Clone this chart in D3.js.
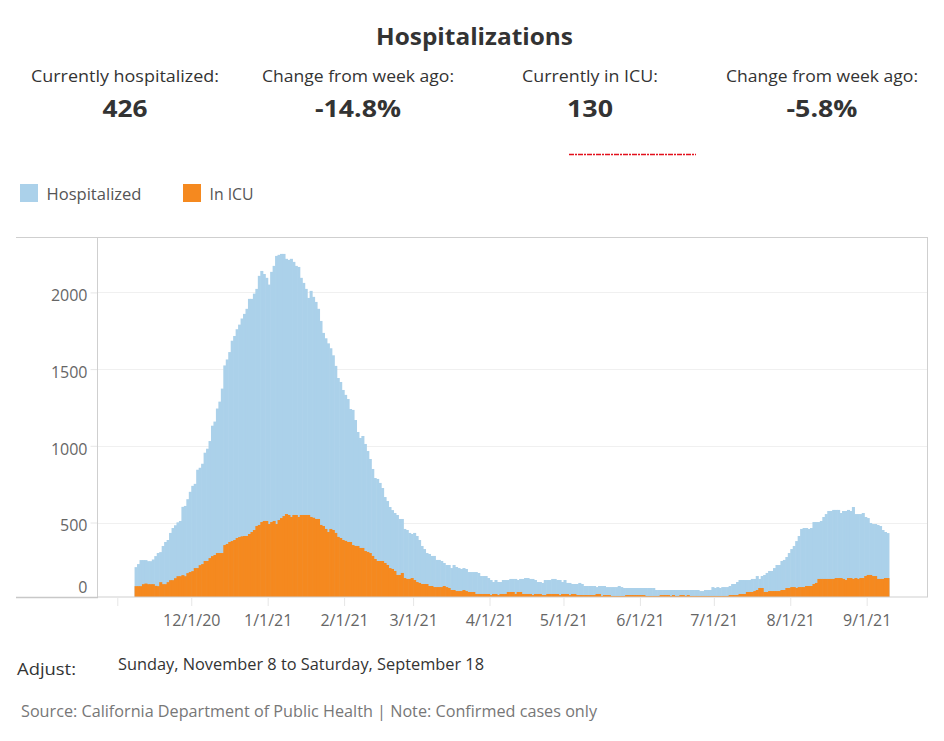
<!DOCTYPE html>
<html>
<head>
<meta charset="utf-8">
<script src="https://cdn.jsdelivr.net/npm/d3@7"></script>
<style>
  html, body { margin: 0; padding: 0; background: #fff; }
  svg { display: block; font-family: "Open Sans", Lato, sans-serif; }
</style>
</head>
<body>
<svg id="chart" width="944" height="741"></svg>
<script>
// ---------- DATA ----------
const firstDay = "2020-11-08";
const lastDay = "2021-09-09";

const hospitalized = [
  209, 229, 255, 255, 255, 248, 248, 259, 281, 301,
  307, 347, 373, 386, 432, 464, 482, 501, 510, 602,
  608, 652, 700, 739, 752, 844, 857, 883, 955, 981,
  1031, 1131, 1158, 1243, 1288, 1373, 1524, 1563, 1611, 1685,
  1716, 1760, 1790, 1830, 1860, 1893, 1958, 1958, 1992, 2023,
  2108, 2140, 2120, 2095, 2051, 2134, 2173, 2238, 2245, 2251,
  2251, 2219, 2212, 2219, 2199, 2173, 2166, 2095, 2062, 2023,
  1964, 2010, 1971, 1938, 1893, 1814, 1736, 1701, 1668, 1636,
  1590, 1521, 1442, 1416, 1364, 1332, 1305, 1240, 1234, 1168,
  1090, 1051, 1064, 1012, 966, 914, 849, 790, 784, 758,
  725, 666, 640, 601, 581, 562, 549, 523, 523, 458,
  451, 432, 425, 432, 412, 386, 347, 327, 301, 295,
  282, 282, 256, 256, 249, 236, 223, 223, 203, 223,
  210, 203, 197, 203, 197, 177, 177, 177, 177, 171,
  151, 151, 151, 138, 125, 112, 125, 112, 112, 125,
  125, 125, 132, 132, 132, 125, 132, 132, 138, 138,
  132, 132, 125, 112, 112, 106, 125, 125, 125, 132,
  132, 125, 125, 112, 125, 106, 106, 99, 99, 99,
  106, 99, 86, 86, 86, 86, 86, 79, 86, 86,
  86, 79, 79, 79, 79, 79, 86, 79, 73, 73,
  73, 73, 73, 73, 73, 73, 73, 73, 73, 73,
  73, 60, 60, 60, 60, 60, 60, 60, 60, 60,
  60, 60, 60, 60, 60, 60, 60, 60, 60, 53,
  53, 60, 60, 60, 79, 73, 79, 73, 79, 79,
  79, 86, 99, 99, 112, 125, 125, 125, 125, 125,
  132, 132, 151, 132, 151, 158, 171, 184, 184, 203,
  223, 223, 249, 256, 275, 301, 327, 347, 379, 412,
  458, 464, 464, 458, 464, 503, 503, 503, 510, 536,
  555, 575, 575, 582, 582, 582, 562, 575, 575, 582,
  575, 601, 555, 555, 555, 562, 536, 529, 497, 490,
  490, 484, 477, 451, 438, 431
];

const inICU = [
  85, 85, 85, 98, 102, 98, 98, 98, 87, 85,
  111, 98, 98, 111, 124, 124, 137, 150, 150, 157,
  150, 170, 177, 183, 203, 203, 222, 229, 249, 249,
  268, 281, 288, 301, 301, 301, 353, 360, 373, 379,
  386, 399, 405, 410, 412, 412, 425, 438, 451, 477,
  484, 503, 510, 510, 490, 503, 510, 490, 516, 529,
  542, 555, 549, 536, 549, 549, 536, 549, 549, 549,
  549, 536, 531, 523, 523, 484, 477, 458, 438, 458,
  451, 432, 406, 399, 386, 380, 373, 373, 353, 347,
  347, 334, 334, 314, 308, 301, 282, 262, 249, 249,
  249, 236, 223, 203, 197, 184, 158, 158, 171, 138,
  132, 132, 138, 125, 112, 106, 99, 99, 99, 86,
  86, 79, 79, 79, 79, 86, 79, 73, 60, 60,
  53, 53, 53, 60, 53, 47, 47, 47, 34, 34,
  34, 34, 34, 34, 27, 34, 34, 27, 34, 34,
  34, 47, 47, 47, 34, 47, 47, 34, 34, 34,
  34, 27, 34, 34, 34, 27, 27, 34, 34, 34,
  34, 34, 27, 34, 34, 34, 27, 34, 34, 27,
  27, 27, 27, 27, 27, 27, 27, 34, 34, 21,
  27, 27, 27, 21, 21, 21, 21, 21, 21, 27,
  27, 27, 27, 27, 27, 27, 27, 21, 21, 21,
  21, 21, 21, 27, 27, 27, 27, 21, 27, 21,
  21, 27, 27, 21, 27, 21, 21, 21, 21, 21,
  21, 21, 21, 21, 21, 21, 21, 21, 21, 21,
  21, 27, 27, 27, 27, 34, 34, 34, 47, 47,
  47, 53, 60, 73, 73, 47, 47, 53, 53, 53,
  53, 53, 60, 60, 73, 73, 79, 79, 73, 79,
  79, 79, 86, 86, 86, 99, 106, 132, 132, 132,
  132, 132, 132, 132, 138, 138, 138, 132, 125, 138,
  138, 132, 138, 132, 138, 138, 151, 158, 158, 151,
  151, 132, 132, 132, 138, 138
];

const yTickValues = [0, 500, 1000, 1500, 2000];
const seriesNames = ["Hospitalized", "In ICU"];
const seriesColors = ["#abd1ea", "#f5891f"];

const statLabels = ["Currently hospitalized:", "Change from week ago:", "Currently in ICU:", "Change from week ago:"];
const statValues = ["426", "-14.8%", "130", "-5.8%"];

const titleText = "Hospitalizations";
const adjustLabel = "Adjust:";
const rangeText = "Sunday, November 8 to Saturday, September 18";
const sourceText = "Source: California Department of Public Health | Note: Confirmed cases only";

// ---------- LAYOUT ----------
const svg = d3.select("#chart");
const plot = { left: 98, right: 927, top: 237, bottom: 597 };

const days = d3.utcDay.range(new Date(firstDay + "T00:00:00Z"), d3.utcDay.offset(new Date(lastDay + "T00:00:00Z"), 1));

const x = d3.scaleUtc()
  .domain([new Date(Date.UTC(2020, 9, 24, 4)), new Date(Date.UTC(2021, 8, 25, 11, 17))])
  .range([plot.left, plot.right]);

const y = d3.scaleLinear()
  .domain([0, 2360])
  .range([599.2, 237.2]);

function fitText(sel, len) {
  sel.attr("textLength", len).attr("lengthAdjust", "spacingAndGlyphs");
  return sel;
}

// ---------- HEADER ----------
fitText(svg.append("text")
  .attr("x", 474.5).attr("y", 44.5)
  .attr("text-anchor", "middle")
  .attr("font-size", 23).attr("font-weight", 700)
  .attr("fill", "#333")
  .text(titleText), 197);

const statCenters = [125, 358, 590, 822];
const statLabelWidths = [188, 192, 136, 192];
const statValueWidths = [45, 86, 46, 71];
statLabels.forEach((lab, i) => {
  fitText(svg.append("text")
    .attr("x", statCenters[i]).attr("y", 82)
    .attr("text-anchor", "middle")
    .attr("font-size", 15.5).attr("fill", "#333")
    .text(lab), statLabelWidths[i]);
  fitText(svg.append("text")
    .attr("x", statCenters[i]).attr("y", 117)
    .attr("text-anchor", "middle")
    .attr("font-size", 24).attr("font-weight", 700).attr("fill", "#333")
    .text(statValues[i]), statValueWidths[i]);
});

// small red artifact line
svg.append("line")
  .attr("x1", 569).attr("x2", 696).attr("y1", 154.5).attr("y2", 154.5)
  .attr("stroke", "#e3101c").attr("stroke-width", 1.3)
  .attr("stroke-dasharray", "5,1,2,1");

// ---------- LEGEND ----------
const legendX = [20, 183];
const legendWidths = [95, 44];
seriesNames.forEach((name, i) => {
  svg.append("rect")
    .attr("x", legendX[i]).attr("y", 184)
    .attr("width", 18).attr("height", 18)
    .attr("fill", seriesColors[i]);
  fitText(svg.append("text")
    .attr("x", legendX[i] + 26.5).attr("y", 200)
    .attr("font-size", 16).attr("fill", "#555")
    .text(name), legendWidths[i]);
});

// ---------- FRAME & GRID ----------
svg.append("line")
  .attr("x1", 16).attr("x2", plot.right).attr("y1", plot.top + 0.5).attr("y2", plot.top + 0.5)
  .attr("stroke", "#cfcfcf");
svg.append("line")
  .attr("x1", plot.right + 0.5).attr("x2", plot.right + 0.5).attr("y1", plot.top).attr("y2", plot.bottom)
  .attr("stroke", "#cfcfcf");

svg.append("g")
  .selectAll("line")
  .data(yTickValues.filter(v => v > 0))
  .join("line")
  .attr("x1", plot.left).attr("x2", plot.right)
  .attr("y1", d => Math.round(y(d)) + 0.5).attr("y2", d => Math.round(y(d)) + 0.5)
  .attr("stroke", "#f0f0f0");

// ---------- BARS ----------
svg.append("defs").append("clipPath").attr("id", "plotclip")
  .append("rect")
  .attr("x", plot.left).attr("y", plot.top)
  .attr("width", plot.right - plot.left).attr("height", plot.bottom - plot.top);

const barsG = svg.append("g").attr("clip-path", "url(#plotclip)");
[hospitalized, inICU].forEach((vals, si) => {
  barsG.append("g")
    .selectAll("rect")
    .data(vals.map((v, i) => ({ date: days[i], value: v })))
    .join("rect")
    .attr("x", d => x(d.date))
    .attr("width", d => x(d3.utcDay.offset(d.date, 1)) - x(d.date) + 0.6)
    .attr("y", d => y(d.value))
    .attr("height", d => y(0) - y(d.value))
    .attr("fill", seriesColors[si]);
});

// ---------- AXES ----------
const yAxis = d3.axisLeft(y).tickValues(yTickValues).tickSize(7).tickPadding(3).tickFormat(d3.format("d"));
const yG = svg.append("g").attr("transform", `translate(${plot.left - 0.5},0)`).call(yAxis);
yG.select(".domain").remove();
yG.selectAll(".tick line").attr("stroke", "#e6e6e6").attr("opacity", d => d === 0 ? 0 : 1);
yG.selectAll(".tick text")
  .attr("fill", "#666").attr("font-size", 16)
  .attr("font-family", "'Open Sans', sans-serif")
  .attr("dy", d => d === 0 ? "-6.5px" : "8.4px");

svg.append("line")
  .attr("x1", plot.left - 0.5).attr("x2", plot.left - 0.5).attr("y1", plot.top).attr("y2", plot.bottom)
  .attr("stroke", "#cfcfcf");
svg.append("line")
  .attr("x1", 16).attr("x2", plot.left).attr("y1", 597.5).attr("y2", 597.5)
  .attr("stroke", "#c8c8c8").attr("stroke-width", 1.5);
svg.append("line")
  .attr("x1", plot.left).attr("x2", plot.right + 1).attr("y1", 597).attr("y2", 597)
  .attr("stroke", "#cfcfcf");

const monthTicks = d3.utcMonth.range(new Date(Date.UTC(2020, 10, 1)), new Date(Date.UTC(2021, 8, 2)));
const fmt = d3.utcFormat("%-m/%-d/%y");
const xAxis = d3.axisBottom(x).tickValues(monthTicks).tickSize(8).tickPadding(9)
  .tickFormat((d, i) => i === 0 ? "" : fmt(d));
const xG = svg.append("g").attr("transform", "translate(0,598)").call(xAxis);
xG.select(".domain").remove();
xG.selectAll(".tick line").attr("stroke", "#e6e6e6");
xG.selectAll(".tick text")
  .attr("fill", "#666").attr("font-size", 16)
  .attr("font-family", "'Open Sans', sans-serif");

// ---------- FOOTER ----------
fitText(svg.append("text")
  .attr("x", 17).attr("y", 675)
  .attr("font-size", 16.5).attr("fill", "#333")
  .text(adjustLabel), 59);
fitText(svg.append("text")
  .attr("x", 118).attr("y", 670)
  .attr("font-size", 16).attr("fill", "#333")
  .text(rangeText), 366);
fitText(svg.append("text")
  .attr("x", 21).attr("y", 717)
  .attr("font-size", 16).attr("fill", "#777")
  .text(sourceText), 576);
</script>
</body>
</html>
